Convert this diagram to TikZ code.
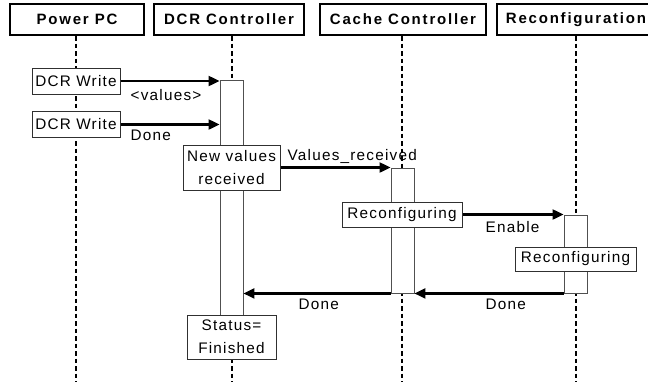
\documentclass[tikz,border=0pt]{standalone}
\usepackage{fontspec}
\setmainfont[LetterSpace=8]{Liberation Sans}
\newfontfamily\hdrfont[LetterSpace=12]{Liberation Sans}
\usepackage{tikz}
\usetikzlibrary{positioning, arrows.meta, calc}
\definecolor{boxline}{HTML}{303030}
\definecolor{actline}{HTML}{505050}

\begin{document}
\begin{tikzpicture}[x=1pt,y=-1pt,hdr/.style={draw, line width=2pt, fill=white, minimum height=31pt, inner sep=0pt, font=\hdrfont\bfseries\fontsize{15}{18}\selectfont},note/.style={draw=boxline, line width=1pt, fill=white, inner sep=0pt, align=center, font=\fontsize{15.3}{23}\selectfont},act/.style={draw=actline, line width=0.9pt, fill=white, minimum width=23pt, inner sep=0pt},lbl/.style={font=\fontsize{15.3}{18}\selectfont, inner sep=0pt},life/.style={line width=2pt, dash pattern=on 4.5pt off 3pt},msg/.style={-{Triangle[length=11pt, width=10pt]}, line width=2.2pt}]
\clip (0,0) rectangle (648,381);
\useasboundingbox (0,0) rectangle (648,381);
% headers
\node[hdr, minimum width=134pt] (ppc) at (77,19.5) {Power PC};
\node[hdr, minimum width=150pt] (dcr) at (229,19.5) {DCR Controller};
\node[hdr, minimum width=166pt] (cc) at (403,19.5) {Cache Controller};
\node[hdr, minimum width=158pt] (rc) at (576,19.5) {Reconfiguration};
% lifelines
\draw[life] ($(ppc.south)+(-1,0)$) -- ++(0,350);
\draw[life] ($(dcr.south)+(3,0)$) -- ++(0,350);
\draw[life] ($(cc.south)+(-1,0)$) -- ++(0,350);
\draw[life] (rc.south) -- ++(0,350);
% activations
\node[act, minimum height=235pt] (actD) at (231.5,197.5) {};
\node[act, minimum height=125pt] (actC) at (402.5,230.5) {};
\node[act, minimum height=78pt] (actR) at (575.5,254) {};
% notes
\node[note, minimum width=88pt, minimum height=26pt] (w1) at (76,81) {DCR Write};
\node[note, minimum width=88pt, minimum height=26pt] (w2) at (76,124.5) {DCR Write};
\node[note, minimum width=97pt, minimum height=45pt] (nv) at (231.5,167.5) {New values\\received};
\node[note, minimum width=89pt, minimum height=44pt] (st) at (231.5,337) {Status=\\Finished};
\node[note, minimum width=120pt, minimum height=25pt] (rc1) at (402,214.5) {Reconfiguring};
\node[note, minimum width=121pt, minimum height=24pt] (rc2) at (575.5,259) {Reconfiguring};
% messages
\draw[msg] (w1.east) -- (w1.east -| actD.west);
\node[lbl, anchor=base west] (l1) at ($(w1.east)+(10,19)$) {<values>};
\draw[msg] (w2.east) -- (w2.east -| actD.west);
\node[lbl, anchor=base west] (l2) at ($(w2.east)+(10,16)$) {Done};
\draw[msg] (nv.east) -- (nv.east -| actC.west);
\node[lbl, anchor=base west] (l3) at ($(nv.east)+(7,-7)$) {Values\_received};
\draw[msg] (rc1.east) -- (rc1.east -| actR.west);
\node[lbl, anchor=base west] (l4) at ($(rc1.east)+(23,18)$) {Enable};
\draw[msg] (actR.south west) -- (actC.south east);
\node[lbl, anchor=base west] (l5) at ($(actC.south east)+(71,16)$) {Done};
\draw[msg] (actC.south west) -- (actC.south west -| actD.east);
\node[lbl, anchor=base west] (l6) at ($(actD.east |- actC.south)+(55,16)$) {Done};
\end{tikzpicture}
\end{document}
